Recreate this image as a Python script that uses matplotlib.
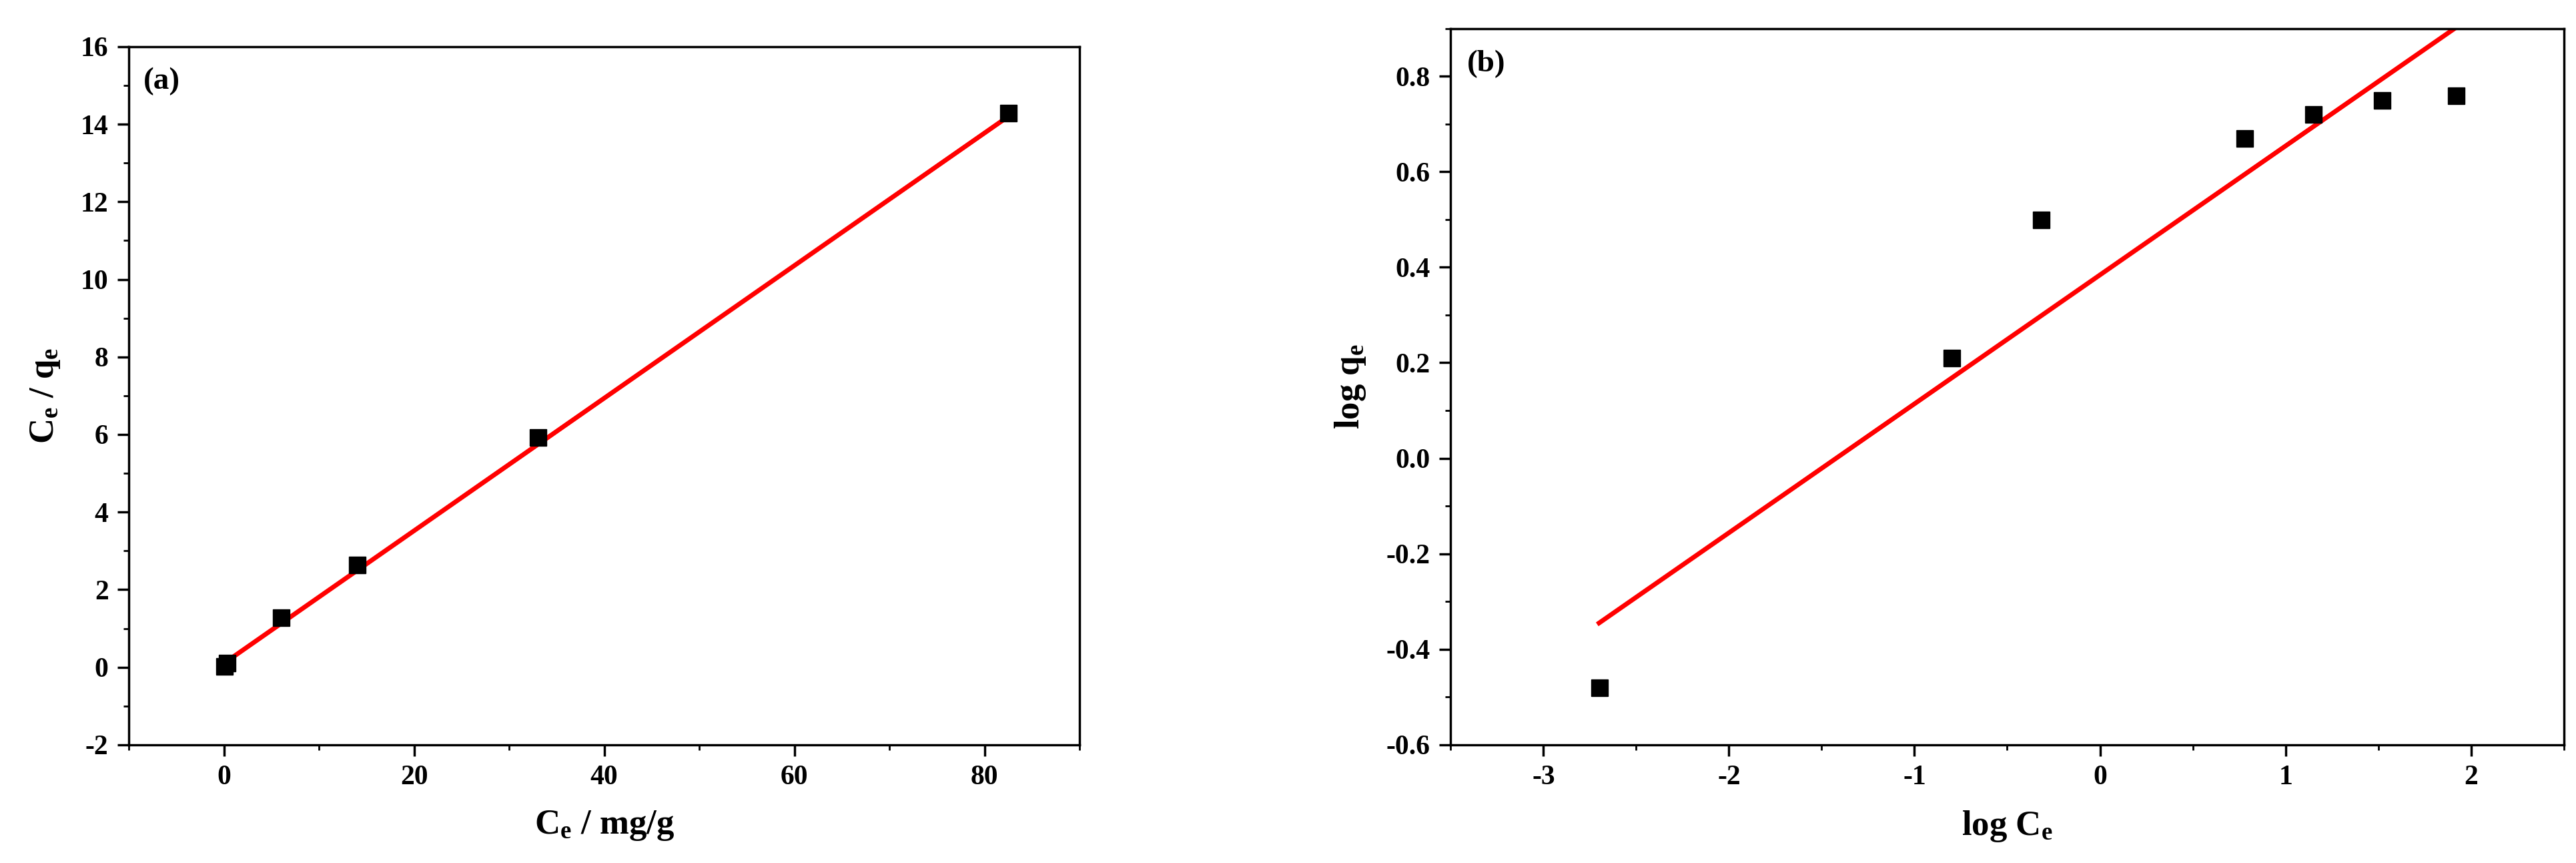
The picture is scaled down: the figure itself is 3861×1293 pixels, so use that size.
import numpy as np
import matplotlib.pyplot as plt
from matplotlib.ticker import MultipleLocator

plt.rcParams['font.family'] = ['Liberation Serif', 'DejaVu Serif']
plt.rcParams['font.weight'] = 'bold'
plt.rcParams['axes.unicode_minus'] = False
plt.rcParams['mathtext.fontset'] = 'custom'
plt.rcParams['mathtext.rm'] = 'Liberation Serif:bold'
plt.rcParams['mathtext.bf'] = 'Liberation Serif:bold'
plt.rcParams['mathtext.it'] = 'Liberation Serif:bold'

# panel (a): Langmuir
ce_a = [0.0, 0.3, 6.0, 14.0, 33.0, 82.5]
ceqe_a = [0.02, 0.12, 1.28, 2.65, 5.93, 14.3]
fit_a_x = [0.0, 82.5]
fit_a_y = [0.1, 14.2]

# panel (b): Freundlich
logce_b = [-2.7, -0.8, -0.32, 0.78, 1.15, 1.52, 1.92]
logqe_b = [-0.48, 0.21, 0.50, 0.67, 0.72, 0.75, 0.76]
fit_b_x = [-2.7, 1.93]
fit_b_y = [-0.345, 0.905]

fig = plt.figure(figsize=(38.62, 12.93), dpi=100)
ax1 = fig.add_axes([0.05, 0.137, 0.369, 0.809])
ax2 = fig.add_axes([0.563, 0.137, 0.432, 0.830])

def style(ax):
    for s in ax.spines.values():
        s.set_linewidth(2.5)
    ax.tick_params(which='major', length=12, width=2.5, labelsize=30, pad=10)
    ax.tick_params(which='minor', length=6, width=2)
    for lab in ax.get_xticklabels() + ax.get_yticklabels():
        lab.set_fontweight('bold')

ax1.plot(fit_a_x, fit_a_y, color='red', lw=5)
ax1.plot(ce_a, ceqe_a, 's', color='black', ms=18)
ax1.set_xlim(-10, 90)
ax1.set_ylim(-2, 16)
ax1.xaxis.set_major_locator(MultipleLocator(20))
ax1.xaxis.set_minor_locator(MultipleLocator(10))
ax1.yaxis.set_major_locator(MultipleLocator(2))
ax1.yaxis.set_minor_locator(MultipleLocator(1))
ax1.set_xlabel(r'C$_\mathrm{e}$ / mg/g', fontsize=38, fontweight='bold', labelpad=20)
ax1.set_ylabel(r'C$_\mathrm{e}$ / q$_\mathrm{e}$', fontsize=38, fontweight='bold', labelpad=20)
ax1.text(0.015, 0.97, '(a)', transform=ax1.transAxes, fontsize=34, fontweight='bold', va='top')
style(ax1)

ax2.plot(fit_b_x, fit_b_y, color='red', lw=5)
ax2.plot(logce_b, logqe_b, 's', color='black', ms=18)
ax2.set_xlim(-3.5, 2.5)
ax2.set_ylim(-0.6, 0.9)
ax2.xaxis.set_major_locator(MultipleLocator(1))
ax2.xaxis.set_minor_locator(MultipleLocator(0.5))
ax2.yaxis.set_major_locator(MultipleLocator(0.2))
ax2.yaxis.set_minor_locator(MultipleLocator(0.1))
ax2.set_xlabel(r'log C$_\mathrm{e}$', fontsize=38, fontweight='bold', labelpad=20)
ax2.set_ylabel(r'log q$_\mathrm{e}$', fontsize=38, fontweight='bold', labelpad=20)
ax2.text(0.015, 0.97, '(b)', transform=ax2.transAxes, fontsize=34, fontweight='bold', va='top')
style(ax2)

fig.savefig('out.png', dpi=100)
